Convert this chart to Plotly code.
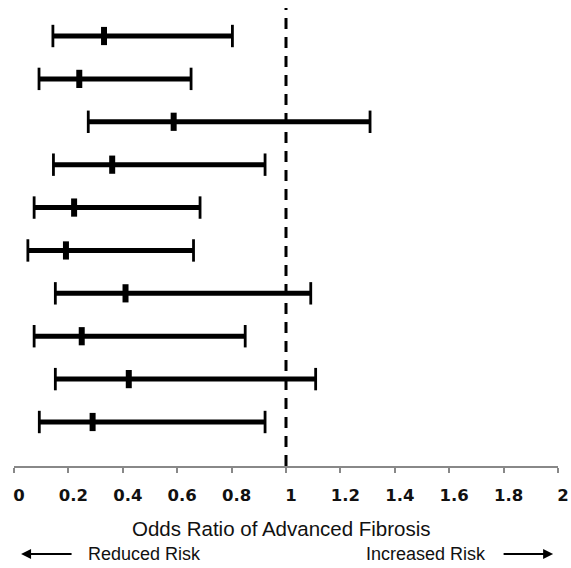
import plotly.graph_objects as go

rows = list(range(1, 11))
lows = [0.143, 0.092, 0.273, 0.145, 0.074, 0.051, 0.152, 0.074, 0.152, 0.093]
odds = [0.331, 0.240, 0.587, 0.361, 0.221, 0.191, 0.410, 0.249, 0.422, 0.289]
highs = [0.803, 0.651, 1.309, 0.923, 0.684, 0.660, 1.091, 0.850, 1.109, 0.923]

tick_vals = [0, 0.2, 0.4, 0.6, 0.8, 1, 1.2, 1.4, 1.6, 1.8, 2]
tick_text = ["0", "0.2", "0.4", "0.6", "0.8", "1", "1.2", "1.4", "1.6", "1.8", "2"]

x_title = "Odds Ratio of Advanced Fibrosis"
left_label = "Reduced Risk"
right_label = "Increased Risk"

fig = go.Figure()

# CI segments
seg_x, seg_y = [], []
for lo, hi, r in zip(lows, highs, rows):
    seg_x += [lo, hi, None]
    seg_y += [r, r, None]
fig.add_trace(go.Scatter(
    x=seg_x, y=seg_y, mode="lines+markers",
    line=dict(color="black", width=5),
    marker=dict(symbol="line-ns", size=16, line=dict(color="black", width=2.8)),
    hoverinfo="skip", showlegend=False, cliponaxis=False))

# point estimates
fig.add_trace(go.Scatter(
    x=odds, y=rows, mode="markers",
    marker=dict(symbol="line-ns", size=13, line=dict(color="black", width=6)),
    showlegend=False, cliponaxis=False))

fig.add_vline(x=1, line=dict(color="black", width=3, dash="11px,8px"))

fig.update_xaxes(
    range=[0, 2], tickvals=tick_vals, ticktext=tick_text,
    showline=True, linecolor="#888888", linewidth=1.5,
    ticks="outside", ticklen=5, tickcolor="#888888", tickwidth=1.5,
    showgrid=False, zeroline=False, automargin=False,
    tickfont=dict(family="DejaVu Sans", size=16.5, color="#111111", weight="bold"),
    ticklabelshift=5, ticklabelstandoff=8,
)
fig.update_yaxes(range=[11.026, 0.347], visible=False, showgrid=False, automargin=False)

fig.add_annotation(x=0.982, xref="x", y=-0.1354, yref="paper", text=x_title,
                   showarrow=False, font=dict(family="Liberation Sans", size=20.5, color="#111111"),
                   xanchor="center", yanchor="middle")
fig.add_annotation(x=0.478, xref="x", y=-0.192, yref="paper", text=left_label,
                   showarrow=False, font=dict(family="Liberation Sans", size=18, color="#111111"),
                   xanchor="center", yanchor="middle")
fig.add_annotation(x=1.515, xref="x", y=-0.192, yref="paper", text=right_label,
                   showarrow=False, font=dict(family="Liberation Sans", size=18, color="#111111"),
                   xanchor="center", yanchor="middle")
# arrows
fig.add_annotation(x=0.026, xref="x", y=-0.192, yref="paper", text="",
                   showarrow=True, ax=52, ay=0, arrowhead=2, arrowsize=1, arrowwidth=2,
                   arrowcolor="black")
fig.add_annotation(x=1.982, xref="x", y=-0.192, yref="paper", text="",
                   showarrow=True, ax=-51, ay=0, arrowhead=2, arrowsize=1, arrowwidth=2,
                   arrowcolor="black")

fig.update_layout(
    width=571, height=568,
    margin=dict(l=14, r=13, t=8, b=102, autoexpand=False),
    paper_bgcolor="white", plot_bgcolor="white",
    showlegend=False,
)

fig.write_html("out.html", config={"displayModeBar": False},
               post_script="document.body.style.margin='0';document.body.style.overflow='hidden';")
